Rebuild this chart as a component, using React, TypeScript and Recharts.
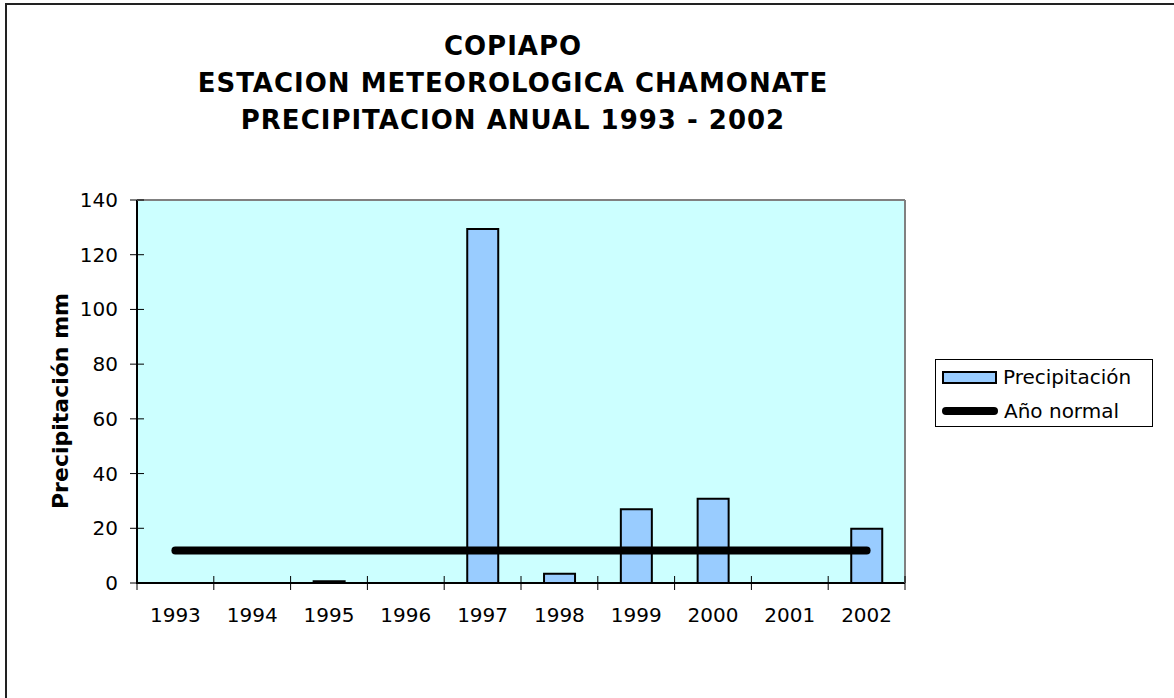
import { ComposedChart, Bar, Line, XAxis, YAxis, ReferenceLine } from "recharts";

const years = ["1993", "1994", "1995", "1996", "1997", "1998", "1999", "2000", "2001", "2002"];
const precipitation = [0, 0, 0.6, 0, 129.4, 3.4, 27, 30.8, 0, 19.8];
const normalYear = [11.9, 11.9, 11.9, 11.9, 11.9, 11.9, 11.9, 11.9, 11.9, 11.9];
const yTicks = [0, 20, 40, 60, 80, 100, 120, 140];
// boundaries between the yearly categories (Excel puts ticks between bars)
const edgeTicks = [1992.5, 1993.5, 1994.5, 1995.5, 1996.5, 1997.5, 1998.5, 1999.5, 2000.5, 2001.5, 2002.5];
const titleLines = ["COPIAPO", "ESTACION METEOROLOGICA CHAMONATE", "PRECIPITACION ANUAL 1993 - 2002"];
const seriesNames = ["Precipitación", "Año normal"];
const yLabel = "Precipitación mm";

const data = years.map((year, i) => ({
  year,
  yearNum: Number(year),
  precipitation: precipitation[i],
  normal: normalYear[i],
}));

const font = "'DejaVu Sans', Verdana, sans-serif";

const W = 1174;
const H = 698;
const margin = { top: 200, right: 269, left: 0, bottom: 74 };
const yAxisWidth = 137;
const catAxisHeight = 40;
const edgeAxisHeight = 1;
// plot area box, used for the cyan backdrop (and the black axis edges) behind the svg
const plot = {
  left: margin.left + yAxisWidth,
  top: margin.top,
  width: W - margin.left - yAxisWidth - margin.right,
  height: H - margin.top - margin.bottom - catAxisHeight - edgeAxisHeight,
};

// tick marks cross the axis line, like in Excel
const YTick = ({ x, y, payload }: any) => (
  <g>
    <line x1={x - 7} x2={x + 7} y1={y} y2={y} stroke="#000" strokeWidth={1} />
    <text x={x - 19} y={y} textAnchor="end" dominantBaseline="central" fontFamily={font} fontSize={20} fill="#000">
      {payload.value}
    </text>
  </g>
);

const EdgeTick = ({ x, y }: any) => <line x1={x} x2={x} y1={y - 7} y2={y + 7} stroke="#000" strokeWidth={1} />;

const YearTick = ({ x, y, payload }: any) => (
  <text x={x} y={y + 24} dy="0.71em" textAnchor="middle" fontFamily={font} fontSize={20} fill="#000">
    {payload.value}
  </text>
);

const App = () => {
  return (
    <div style={{ position: "absolute", left: 0, top: 0, width: W, height: H, overflow: "hidden", background: "#fff" }}>
      <div style={{ position: "absolute", left: 5, top: 3, width: 1300, height: 900, border: "2px solid #222" }} />
      <div
        style={{
          position: "absolute",
          left: 163,
          top: 28,
          width: 700,
          textAlign: "center",
          fontFamily: font,
          fontWeight: "bold",
          fontSize: 26,
          letterSpacing: 1,
          lineHeight: "37px",
          color: "#000",
        }}
      >
        {titleLines.map((t) => (
          <div key={t}>{t}</div>
        ))}
      </div>

      <div
        style={{
          position: "absolute",
          left: plot.left - 1,
          top: plot.top,
          width: plot.width - 1,
          height: plot.height - 1,
          background: "#CCFFFF",
          borderLeft: "2px solid #000",
          borderBottom: "2px solid #000",
        }}
      />

      <ComposedChart
        width={W}
        height={H}
        data={data}
        margin={margin}
        barCategoryGap="30%"
        style={{ position: "absolute", left: 0, top: 0 }}
      >
        <XAxis
          xAxisId="b"
          dataKey="year"
          height={catAxisHeight}
          axisLine={false}
          tickLine={false}
          tickSize={0}
          tickMargin={0}
          tick={<YearTick />}
          interval={0}
        />
        <XAxis
          xAxisId="a"
          dataKey="yearNum"
          type="number"
          domain={[1992.5, 2002.5]}
          ticks={edgeTicks}
          height={edgeAxisHeight}
          axisLine={false}
          tickLine={false}
          tickSize={0}
          tickMargin={0}
          tick={<EdgeTick />}
          interval={0}
        />
        <YAxis
          dataKey="precipitation"
          type="number"
          domain={[0, 140]}
          ticks={yTicks}
          width={yAxisWidth}
          axisLine={false}
          tickLine={false}
          tickSize={0}
          tickMargin={0}
          tick={<YTick />}
          interval={0}
        />
        <ReferenceLine y={140} xAxisId="a" ifOverflow="visible" stroke="#808080" strokeWidth={2} />
        <ReferenceLine x={2002.5} xAxisId="a" ifOverflow="visible" stroke="#808080" strokeWidth={2} />
        <Bar
          xAxisId="b"
          dataKey="precipitation"
          name={seriesNames[0]}
          fill="#99CCFF"
          stroke="#000"
          strokeWidth={2}
          isAnimationActive={false}
        />
        <Line
          xAxisId="b"
          dataKey="normal"
          name={seriesNames[1]}
          stroke="#000"
          strokeWidth={8}
          strokeLinecap="round"
          dot={false}
          activeDot={false}
          isAnimationActive={false}
        />
        <text
          x={60}
          y={401}
          transform="rotate(-90, 60, 401)"
          textAnchor="middle"
          dominantBaseline="central"
          fontFamily={font}
          fontWeight="bold"
          fontSize={22}
          fill="#000"
        >
          {yLabel}
        </text>
      </ComposedChart>

      <div
        style={{
          position: "absolute",
          left: 935,
          top: 359,
          width: 216,
          height: 66,
          border: "1px solid #000",
          background: "#fff",
          fontFamily: font,
          fontSize: 20,
          color: "#000",
        }}
      >
        <div style={{ position: "absolute", left: 6, top: 4, height: 26, display: "flex", alignItems: "center" }}>
          <span style={{ display: "inline-block", width: 51, height: 9, background: "#99CCFF", border: "2px solid #000", marginRight: 6 }} />
          <span>{seriesNames[0]}</span>
        </div>
        <div style={{ position: "absolute", left: 6, top: 38, height: 26, display: "flex", alignItems: "center" }}>
          <span style={{ display: "inline-block", width: 56, height: 8, background: "#000", borderRadius: 4, marginRight: 6 }} />
          <span>{seriesNames[1]}</span>
        </div>
      </div>
    </div>
  );
};

export default App;
